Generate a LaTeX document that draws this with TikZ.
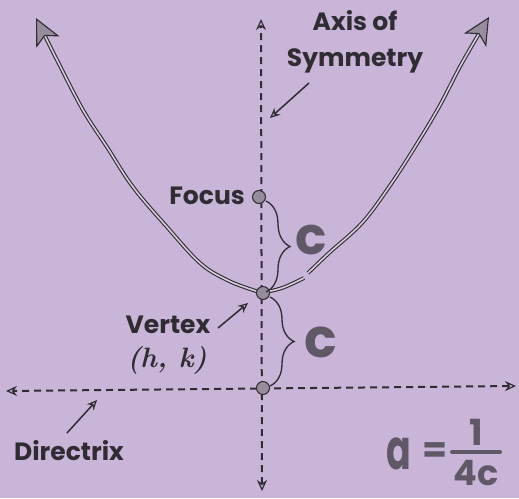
\documentclass[tikz,border=0pt]{standalone}
\usepackage{fontspec}
\newfontfamily\gothic{Poppins}
\usetikzlibrary{arrows.meta,decorations.pathreplacing}
\definecolor{lav}{RGB}{201,181,215}
\definecolor{ink}{RGB}{48,44,52}
\definecolor{inner}{RGB}{214,204,222}
\definecolor{dotfill}{RGB}{150,140,155}
\definecolor{cfill}{RGB}{96,88,102}
\tikzset{
  lbl/.style={font=\gothic\bfseries\fontsize{25}{36}\selectfont, text=ink, inner sep=0pt},
  dashln/.style={draw=ink, line width=2pt, dash pattern=on 7pt off 5pt,
     {Stealth[open,length=11pt,width=10pt,line width=1.2pt]}-{Stealth[open,length=11pt,width=10pt,line width=1.2pt]}},
  curveln/.style={draw=ink, line width=1.1pt, double=inner, double distance=1.6pt},
  tipped/.style={-{Stealth[length=27pt,width=26pt,inset=7pt,fill=dotfill]}},
  pointer/.style={draw=ink, line width=1.5pt, -{Stealth[open,length=10pt,width=9pt,line width=1.2pt]}},
  dotpt/.style={circle, draw=ink, line width=1pt, fill=dotfill, minimum size=13pt, inner sep=0pt},
  bracestyle/.style={draw=ink, line width=1.3pt, decorate, decoration={brace, amplitude=24pt}},
  hand/.style={font=\gothic\bfseries\fontsize{#1}{#1}\selectfont, text=cfill, inner sep=0pt},
}
\begin{document}
\begin{tikzpicture}[x=1pt,y=-1pt]
\fill[lav] (0,0) rectangle (519,498);
\useasboundingbox (0,0) rectangle (519,498);

% axes
\coordinate (axtop) at (261,19);
\coordinate (axbot) at (262,491);
\coordinate (dl) at (6,391);
\coordinate (dr) at (516,386);
\draw[dashln] (axbot) -- (axtop);
\draw[dashln] (dr) -- (dl);

% parabola
\draw[curveln, tipped] plot[smooth, tension=0.6] coordinates {(304,278) (282,288) (263,292) (253,290) (227,280) (200,263) (167,227) (133,187) (107,147) (83,110) (57,60) (36,18)};
\draw[curveln, tipped] plot[smooth, tension=0.6] coordinates {(308,273) (329,253) (362,223) (389,187) (415,147) (439,107) (462,63) (489,17)};

% points
\node[dotpt] (focus) at (259,197) {};
\node[dotpt] (vertex) at (263,293) {};
\node[dotpt] (dpt) at (263,388) {};

% braces
\coordinate (b1a) at (266,201);
\coordinate (b1b) at (266,292);
\coordinate (b2a) at (270,297);
\coordinate (b2b) at (270,386);
\draw[bracestyle] (b1a) -- (b1b);
\draw[bracestyle] (b2a) -- (b2b);

% labels
\node[lbl, align=center] (axl) at (355,42) {Axis of\\Symmetry};
\node[lbl, anchor=east] (focusl) at (245,196) {Focus};
\node[lbl] (vertexl) at (168,325) {Vertex};
\node[text=ink, inner sep=0pt, font=\bfseries\itshape\fontsize{28}{28}\selectfont] (hk) at (167,360) {(h,~k)};
\node[lbl] (dirl) at (69,451) {Directrix};
\node[hand=52] (c1) at (311,240) {c};
\node[hand=54] (c2) at (321,342) {c};

% formula a = 1/4c
\node[hand=56] (fa) at (399,454) {\scalebox{0.65}[1]{a}};
\node[hand=36] (feq) at (435,453) {=};
\node[hand=36] (fnum) at (476,432) {1};
\node[hand=35] (fden) at (476,473) {4c};
\coordinate (bar1) at (452,452);
\coordinate (bar2) at (500,452);
\draw[cfill, line width=4pt, line cap=round] (bar1) -- (bar2);

% pointers
\coordinate (ap1) at (309,83);
\coordinate (ap2) at (270,118);
\coordinate (vp1) at (218,328);
\coordinate (vp2) at (248,303);
\coordinate (dp1) at (67,433);
\coordinate (dp2) at (97,400);
\draw[pointer] (ap1) -- (ap2);
\draw[pointer] (vp1) -- (vp2);
\draw[pointer] (dp1) -- (dp2);
\end{tikzpicture}
\end{document}
